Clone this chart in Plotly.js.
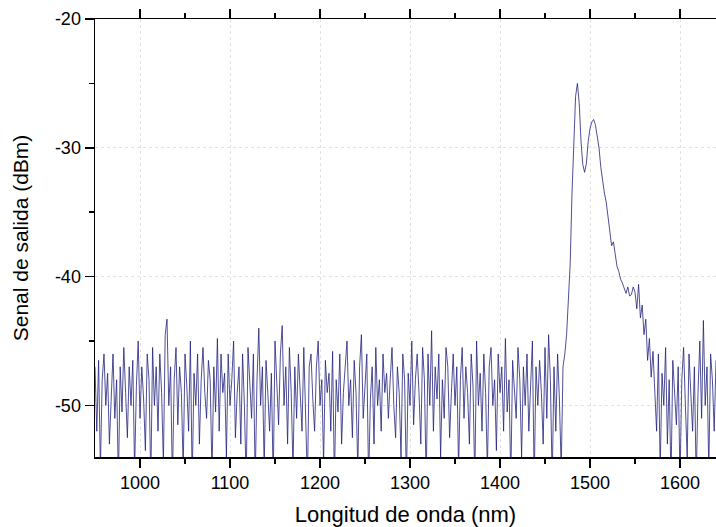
<!DOCTYPE html>
<html>
<head>
<meta charset="utf-8">
<script src="https://cdn.plot.ly/plotly-3.0.1.min.js"></script>
<style>html,body{margin:0;padding:0;background:#fff;}#chart{width:716px;height:527px;}</style>
</head>
<body>
<div id="chart"></div>
<script>
// Wavelength grid (nm): first sample and spacing
const wavelengthStart = 950;
const wavelengthStep = 2;

// Output signal (dBm), 950–1470 nm: noise floor
const noiseLow = [
  -47,-52,-46.5,-55,-48,-46,-50,-47.5,-53,-49,-46,-51,-48,-56,-47,-50.5,-45.5,-49,-52.5,-47,
  -50,-46.5,-55,-48.5,-45,-51,-47,-49.5,-53.5,-46,-48,-56,-45.5,-50,-47,-52,-46,-49,-54.5,-44.5,
  -43.3,-50,-47,-56,-48,-45.5,-51.5,-47,-49,-55,-46,-48.5,-52,-45,-56,-47.5,-50,-46,-53,-48,
  -45.5,-49,-51,-46.5,-48,-55.5,-47,-50.5,-44.8,-52,-46,-49,-47.5,-54,-46,-50,-48,-45,-52.5,-49,
  -47,-53,-46,-50,-56,-45.5,-48.5,-51,-46,-56,-48,-44,-50,-47,-55,-46.5,-49,-52,-47.5,-56,
  -45,-48,-51.5,-46,-43.8,-50,-47,-53,-45.5,-49,-55,-47,-51,-46,-48.5,-52,-45.5,-50,-56,-47,
  -46,-49.5,-52,-47,-45,-50,-48,-54.5,-46.5,-49,-47.5,-52,-45.8,-56,-48,-50.5,-46,-53,-49,-47,
  -45,-50,-48,-52.5,-46.5,-49,-55,-47,-44.5,-51,-48,-46,-56,-49.5,-47,-53,-45.5,-50,-48,-52,
  -46,-49,-47.5,-51,-48,-45.5,-50,-52.5,-47,-49,-54,-46,-48,-56,-47.5,-50,-45,-51.5,-48,-46,
  -49,-53,-45.5,-48,-56,-46,-50,-44.2,-52,-47,-49.5,-46,-54,-48,-51,-45.5,-47,-52.5,-49,-46,
  -50,-47,-55,-48,-45.5,-51,-47,-49,-53,-46,-48.5,-56,-45,-50,-47.5,-52,-46,-49,-55,-47,
  -45.5,-50,-48,-53.5,-46,-49,-47,-52,-44.8,-50.5,-48,-56,-46.5,-49,-51,-45.5,-48,-54,-47,-50,
  -46,-52,-48.5,-45,-56,-47,-50,-46.5,-49,-53,-45.5,-51,-44.5,-48,-56,-47,-52,-46,-49.5,-55,
  -47
];

// 1472–1570 nm: amplified emission band (two peaks)
const peakBand = [
  -46,-44.5,-42,-39,-33.5,-29.5,-26,-25,-26.5,-29.5,
  -31.3,-31.9,-31.2,-29.5,-28.5,-28,-27.8,-28.2,-29,-30,
  -31.5,-32.6,-33.5,-34.2,-35.3,-36.5,-37.6,-37.3,-38.4,-39.2,
  -39.6,-40.2,-40.5,-40.9,-41.3,-40.8,-41.5,-41.4,-40.8,-41.2,
  -42.5,-40.6,-43.2,-42.2,-44.5,-43.3,-46.5,-44.8,-47.8,-45.8
];

// 1572–1640 nm: noise floor
const noiseHigh = [
  -49,-52,-46,-55,-47.5,-50,-45.5,-53,-48,-56,-46.5,-49,-51.5,-47,-56,-48,-45.5,-50,-54,-46,
  -48.5,-52,-47,-56,-49,-45,-51,-43.4,-50,-47,-55,-46,-48,-52,-46.5
];

const xTickVals = [1000,1100,1200,1300,1400,1500,1600];
const xTickText = ['1000','1100','1200','1300','1400','1500','1600'];
const yTickVals = [-50,-40,-30,-20];
const yTickText = ['-50','-40','-30','-20'];

const signal = noiseLow.concat(peakBand, noiseHigh);
const wavelength = signal.map((_, i) => wavelengthStart + wavelengthStep * i);

const trace = {
  x: wavelength, y: signal, type: 'scatter', mode: 'lines',
  line: {color: '#22227c', width: 0.8}, hoverinfo: 'skip'
};

const fam = 'Liberation Sans, Arial, sans-serif';
const layout = {
  width: 716, height: 527,
  margin: {l: 95, r: 0, t: 19, b: 70},
  paper_bgcolor: '#fff', plot_bgcolor: '#fff',
  showlegend: false,
  font: {family: fam, color: '#000'},
  xaxis: {
    range: [950, 1640],
    tickmode: 'array', tickvals: xTickVals, ticktext: xTickText,
    ticks: 'outside', ticklen: 9, tickwidth: 1.5, tickcolor: '#000',
    minor: {tickmode: 'array', tickvals: [1050,1150,1250,1350,1450,1550], ticks: 'outside', ticklen: 5, tickwidth: 1.5, tickcolor: '#000', showgrid: false},
    showline: true, linecolor: '#000', linewidth: 1.5, mirror: 'ticks',
    showgrid: true, gridcolor: '#e2e2e2', griddash: 'dot', gridwidth: 1,
    zeroline: false,
    tickfont: {size: 18, family: fam, color: '#000'},
    title: {text: 'Longitud de onda (nm)', font: {size: 22, family: fam, color: '#000'}, standoff: 14}
  },
  yaxis: {
    range: [-54, -20],
    tickmode: 'array', tickvals: yTickVals, ticktext: yTickText,
    ticks: 'outside', ticklen: 9, tickwidth: 1.5, tickcolor: '#000',
    minor: {tickmode: 'array', tickvals: [-45,-35,-25], ticks: 'outside', ticklen: 5, tickwidth: 1.5, tickcolor: '#000', showgrid: false},
    showline: true, linecolor: '#000', linewidth: 1.5,
    showgrid: true, gridcolor: '#e2e2e2', griddash: 'dot', gridwidth: 1,
    zeroline: false,
    tickfont: {size: 18, family: fam, color: '#000'},
    title: {text: 'Senal de salida (dBm)', font: {size: 21, family: fam, color: '#000'}, standoff: 20}
  }
};

Plotly.newPlot('chart', [trace], layout, {staticPlot: true, displayModeBar: false});
</script>
</body>
</html>
